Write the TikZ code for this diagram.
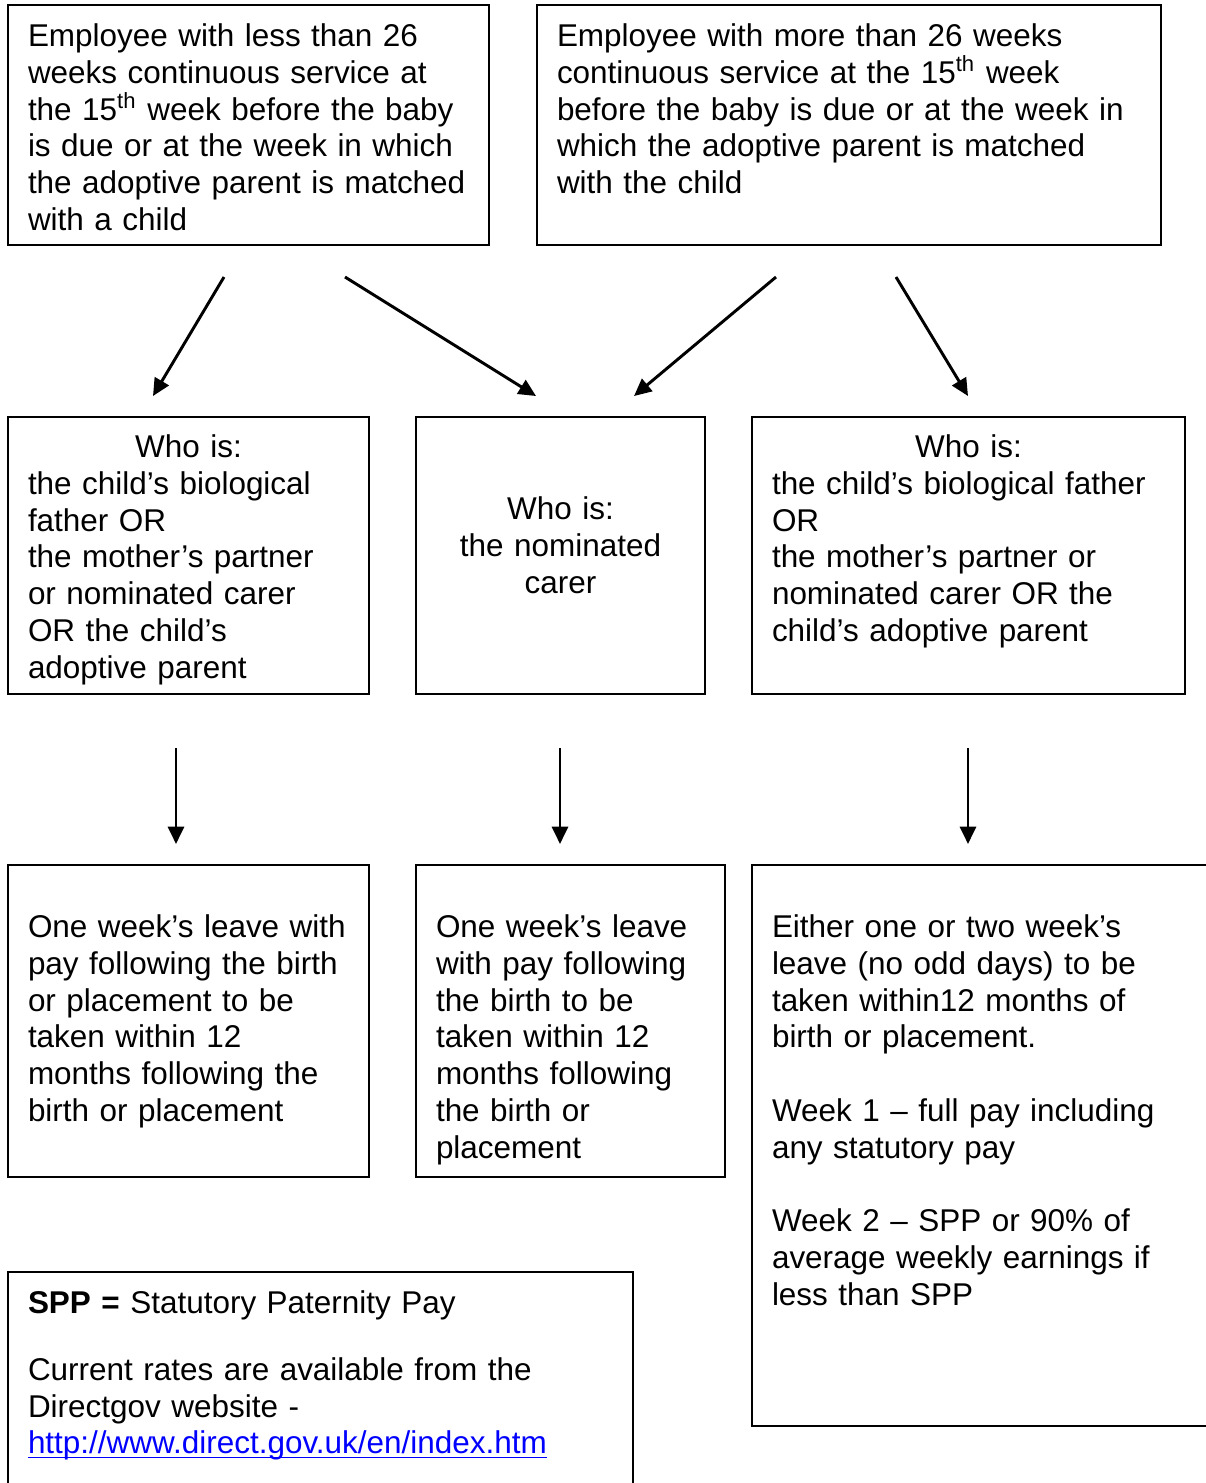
\documentclass[tikz,border=0pt]{standalone}
\usepackage{fontspec}
\setmainfont{Liberation Sans}
\usepackage{xcolor}
\usepackage{tikz}
\usetikzlibrary{arrows.meta}
\definecolor{linkblue}{RGB}{0,0,255}
\newcommand{\linktext}[1]{\leavevmode\setbox0\hbox{#1}\rlap{\rule[-1.7pt]{\wd0}{0.6pt}}\box0}
\tikzset{
  box/.style={draw, line width=0.75pt, anchor=north west, outer sep=0pt,
    inner xsep=7.5pt, inner ysep=0pt, align=left,
    font=\fontsize{11.8}{13.8}\selectfont},
  flow/.style={line width=1.1pt, -{Triangle[length=6.5pt,width=6pt]}}
}

\begin{document}
\begin{tikzpicture}[x=0.375pt, y=-0.375pt]
	\useasboundingbox (0,0) rectangle (1206,1483);
	% first row
	\node[box, text width=165.375pt, text height=15.5625pt, text depth=74.4375pt] (less) at (8,5)
		{Employee with less than 26\\weeks continuous service at\\the 15\textsuperscript{th} week before the baby\\is due or at the week in which\\the adoptive parent is matched\\with a child};
	\node[box, text width=219pt, text height=15.5625pt, text depth=74.4375pt] (more) at (537,5)
		{Employee with more than 26 weeks\\continuous service at the 15\textsuperscript{th} week\\before the baby is due or at the week in\\which the adoptive parent is matched\\with the child};
	% second row
	\node[box, text width=120.375pt, text height=15.1875pt, text depth=88.6875pt] (whoLeft) at (8,417)
		{\makebox[\linewidth]{Who is:}\\the child’s biological\\father OR\\the mother’s partner\\or nominated carer\\OR the child’s\\adoptive parent};
	\node[box, align=center, text width=93.375pt, text height=38.4375pt, text depth=65.4375pt] (whoMid) at (416,417)
		{Who is:\\the nominated\\carer};
	\node[box, text width=147.375pt, text height=15.1875pt, text depth=88.6875pt] (whoRight) at (752,417)
		{\makebox[\linewidth]{Who is:}\\the child’s biological father\\OR\\the mother’s partner or\\nominated carer OR the\\child’s adoptive parent};
	% third row
	\node[box, text width=120.375pt, text height=27.1875pt, text depth=89.8125pt] (leaveLeft) at (8,865)
		{One week’s leave with\\pay following the birth\\or placement to be\\taken within 12\\months following the\\birth or placement};
	\node[box, text width=100.875pt, text height=27.1875pt, text depth=89.8125pt] (leaveMid) at (416,865)
		{One week’s leave\\with pay following\\the birth to be\\taken within 12\\months following\\the birth or\\placement};
	\node[box, text width=157.5pt, text height=27.1875pt, text depth=183.1875pt] (leaveRight) at (752,865)
		{Either one or two week’s\\leave (no odd days) to be\\taken within12 months of\\birth or placement.\\[13.8pt]Week 1 – full pay including\\any statutory pay\\[13.8pt]Week 2 – SPP or 90\% of\\average weekly earnings if\\less than SPP};
	% note
	\node[box, text width=219.375pt, text height=15.5625pt, text depth=66.1875pt] (spp) at (8,1272)
		{\textbf{SPP =} Statutory Paternity Pay\\[11.25pt]Current rates are available from the\\Directgov website -\\\textcolor{linkblue}{\linktext{http://www.direct.gov.uk/en/index.htm}}};
	% arrows
	\coordinate (lessA) at (224,277);
	\coordinate (lessB) at (345,277);
	\coordinate (moreA) at (776,277);
	\coordinate (moreB) at (896,277);
	\coordinate (whoLeftIn) at (153,396);
	\coordinate (whoMidInA) at (536,396);
	\coordinate (whoMidInB) at (634,396);
	\coordinate (whoRightIn) at (968,396);
	\coordinate (whoLeftOut) at (176,748);
	\coordinate (whoMidOut) at (560,748);
	\coordinate (whoRightOut) at (968,748);
	\coordinate (leaveLeftIn) at (176,844);
	\coordinate (leaveMidIn) at (560,844);
	\coordinate (leaveRightIn) at (968,844);
	\draw[flow] (lessA) -- (whoLeftIn);
	\draw[flow] (lessB) -- (whoMidInA);
	\draw[flow] (moreA) -- (whoMidInB);
	\draw[flow] (moreB) -- (whoRightIn);
	\draw[flow] (whoLeftOut) -- (leaveLeftIn);
	\draw[flow] (whoMidOut) -- (leaveMidIn);
	\draw[flow] (whoRightOut) -- (leaveRightIn);
\end{tikzpicture}
\end{document}
